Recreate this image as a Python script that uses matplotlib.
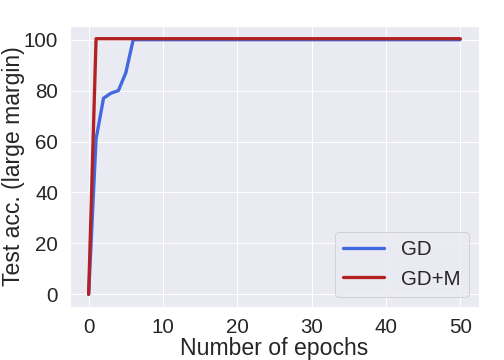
import matplotlib
matplotlib.use("Agg")
import matplotlib.pyplot as plt
import seaborn as sns
import numpy as np

sns.set_theme(style="darkgrid")
plt.rcParams['font.family'] = ['Liberation Sans', 'DejaVu Sans']
plt.rcParams['axes.labelsize'] = 23
plt.rcParams['xtick.labelsize'] = 20.5
plt.rcParams['ytick.labelsize'] = 20.5
plt.rcParams['legend.fontsize'] = 20.5
plt.rcParams['text.color'] = '.15'

epochs = list(range(0, 51))
gd = [0, 61, 77, 79, 80, 87, 100] + [100] * 44
gdm = [0, 100.4] + [100.4] * 49

fig, ax = plt.subplots(figsize=(7, 5), dpi=72)
fig.subplots_adjust(left=0.139, right=0.950, bottom=0.147, top=0.928)
ax.plot(epochs, gd, color="royalblue", lw=3.3, label="GD")
ax.plot(epochs, gdm, color="firebrick", lw=3.3, label="GD+M")
ax.tick_params(axis='y', pad=6)
ax.tick_params(axis='x', pad=5)
ax.set_xlabel("Number of epochs", labelpad=0)
ax.set_ylabel("Test acc. (large margin)", labelpad=-1)
ax.legend(loc="lower right")
fig.savefig("out.png", dpi=72)
